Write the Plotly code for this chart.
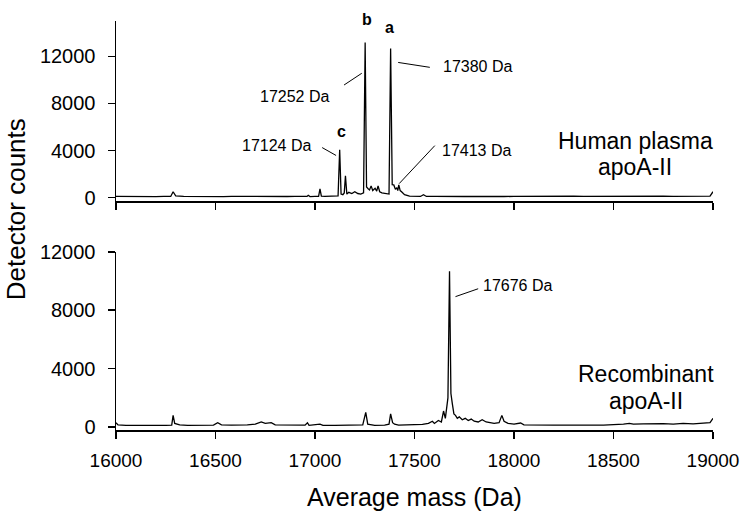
import plotly.graph_objects as go

# ---------------- data ----------------
mass_human = [16000, 16040, 16080, 16120, 16160, 16200, 16240, 16275, 16287, 16300,
              16340, 16380, 16420, 16460, 16500, 16540, 16580, 16620, 16660, 16700,
              16740, 16780, 16820, 16860, 16900, 16940, 16960, 16966, 16975, 17000,
              17018, 17025, 17032, 17050, 17080, 17100, 17116, 17124, 17131, 17140,
              17147, 17153, 17160, 17170, 17185, 17200, 17215, 17230, 17244, 17252,
              17259, 17267, 17274, 17282, 17290, 17302, 17310, 17317, 17325, 17336,
              17350, 17361, 17372, 17380, 17388, 17396, 17404, 17411, 17416, 17421,
              17428, 17435, 17450, 17475, 17500, 17530, 17545, 17560, 17600, 17650,
              17700, 17750, 17800, 17850, 17900, 17950, 18000, 18050, 18100, 18150,
              18200, 18250, 18300, 18350, 18400, 18450, 18500, 18550, 18600, 18650,
              18700, 18750, 18800, 18850, 18900, 18950, 18985, 19000]
counts_human = [100, 90, 110, 95, 105, 90, 110, 100, 500, 150,
                100, 90, 110, 95, 100, 90, 105, 95, 110, 95,
                100, 90, 105, 95, 100, 90, 100, 200, 90, 100,
                110, 750, 120, 100, 110, 130, 150, 4060, 300, 250,
                400, 1850, 300, 450, 350, 500, 350, 300, 400, 13170,
                900, 750, 650, 1000, 600, 800, 550, 1000, 500, 400,
                350, 300, 300, 12670, 1100, 1080, 700, 850, 600, 1080,
                600, 500, 250, 120, 100, 100, 250, 100, 110, 90,
                100, 95, 110, 90, 105, 95, 100, 110, 95, 140,
                100, 110, 130, 100, 110, 120, 100, 140, 120, 130,
                150, 130, 110, 120, 100, 110, 130, 500]

mass_recomb = [16000, 16010, 16050, 16100, 16150, 16200, 16250, 16280, 16287, 16295,
               16320, 16360, 16400, 16450, 16490, 16511, 16530, 16580, 16620, 16660,
               16700, 16730, 16750, 16780, 16800, 16850, 16900, 16950, 16962, 16970,
               17025, 17040, 17100, 17150, 17200, 17240, 17255, 17265, 17300, 17350,
               17372, 17380, 17390, 17400, 17420, 17460, 17500, 17540, 17570, 17590,
               17600, 17620, 17635, 17646, 17655, 17668, 17676, 17683, 17690, 17698,
               17706, 17715, 17725, 17740, 17755, 17770, 17785, 17800, 17820, 17840,
               17860, 17880, 17900, 17925, 17939, 17950, 17970, 18000, 18033, 18050,
               18100, 18150, 18200, 18250, 18300, 18350, 18400, 18450, 18500, 18550,
               18580, 18600, 18650, 18700, 18750, 18800, 18850, 18900, 18950, 18985,
               19000]
counts_recomb = [300, 150, 120, 110, 120, 110, 120, 130, 800, 250,
                 150, 120, 110, 120, 130, 300, 150, 130, 120, 150,
                 200, 350, 250, 300, 150, 130, 120, 130, 300, 120,
                 200, 120, 110, 120, 110, 150, 1000, 200, 120, 130,
                 200, 900, 300, 200, 130, 150, 130, 180, 250, 400,
                 250, 450, 350, 1100, 600, 2000, 10670, 2300, 1600, 900,
                 800, 600, 700, 500, 600, 450, 550, 400, 350, 500,
                 350, 300, 250, 300, 800, 400, 250, 200, 280, 150,
                 130, 130, 140, 130, 150, 130, 140, 130, 150, 200,
                 250, 200, 220, 250, 230, 200, 260, 220, 250, 300,
                 600]

x_ticks = [16000, 16500, 17000, 17500, 18000, 18500, 19000]
x_tick_labels = ["16000", "16500", "17000", "17500", "18000", "18500", "19000"]
y_ticks = [0, 4000, 8000, 12000]
y_tick_labels = ["0", "4000", "8000", "12000"]

FONT = "Liberation Sans, Arial, sans-serif"

fig = go.Figure()
fig.add_trace(go.Scatter(x=mass_human, y=counts_human, mode="lines",
                         line=dict(color="black", width=1.3),
                         xaxis="x", yaxis="y", showlegend=False, hoverinfo="skip"))
fig.add_trace(go.Scatter(x=mass_recomb, y=counts_recomb, mode="lines",
                         line=dict(color="black", width=1.3),
                         xaxis="x2", yaxis="y2", showlegend=False, hoverinfo="skip"))

axis_common = dict(showline=True, linecolor="black", linewidth=1.5,
                   ticks="outside", ticklen=7, tickwidth=1.5, tickcolor="black",
                   showgrid=False, zeroline=False)
yfont = dict(family=FONT, size=20, color="black")
xfont = dict(family=FONT, size=19, color="black")

fig.update_layout(
    width=749, height=515,
    margin=dict(l=116, r=28, t=10, b=85),
    paper_bgcolor="white", plot_bgcolor="white",
    xaxis=dict(domain=[0, 1], range=[16000, 19000], tickvals=x_ticks,
               ticktext=x_tick_labels, showticklabels=False, anchor="y",
               tickfont=xfont, **axis_common),
    yaxis=dict(domain=[0.5595, 1], range=[-300, 15000], tickvals=y_ticks,
               ticktext=y_tick_labels, anchor="x", ticklabelstandoff=8,
               tickfont=yfont, **axis_common),
    xaxis2=dict(domain=[0, 1], range=[16000, 19000], tickvals=x_ticks,
                ticktext=x_tick_labels, anchor="y2", ticklabelstandoff=6,
                tickfont=xfont, **axis_common),
    yaxis2=dict(domain=[0, 0.4357], range=[-200, 12000], tickvals=y_ticks,
                ticktext=y_tick_labels, anchor="x2", ticklabelstandoff=8,
                tickfont=yfont, **axis_common),
)

ann = []
def txt(x, y, s, size=16, bold=False, xref="x", yref="y"):
    ann.append(dict(x=x, y=y, xref=xref, yref=yref, text=("<b>%s</b>" % s) if bold else s,
                    showarrow=False, xanchor="center", yanchor="middle",
                    font=dict(family=FONT, size=size, color="black")))

# top panel labels
txt((370 - 116) / 605, (430 - 8) / 420, "b", bold=True, xref="paper", yref="paper")
txt(17374, 14425, "a", bold=True)
txt(17131, 5655, "c", bold=True)
txt(16898, 8550, "17252 Da")
txt(16808, 4410, "17124 Da")
txt(17815, 11120, "17380 Da")
txt(17810, 4000, "17413 Da")
txt(18613, 4830, "Human plasma", size=23)
txt(18608, 2600, "apoA-II", size=23)
# bottom panel labels
txt(18018, 9667, "17676 Da", xref="x2", yref="y2")
txt(18663, 3600, "Recombinant", size=23, xref="x2", yref="y2")
txt(18663, 1800, "apoA-II", size=23, xref="x2", yref="y2")

# axis titles
ann.append(dict(x=(15 - 116) / 605, y=(430 - 203) / 420, xref="paper", yref="paper",
                text="Detector counts", textangle=-90, showarrow=False,
                xanchor="center", yanchor="middle",
                font=dict(family=FONT, size=26, color="black")))
ann.append(dict(x=(418 - 116) / 605, y=(430 - 499) / 420, xref="paper", yref="paper",
                text="Average mass (Da)", showarrow=False,
                xanchor="center", yanchor="middle",
                font=dict(family=FONT, size=25, color="black")))
fig.update_layout(annotations=ann)

# leader lines
leaders = [
    ("x", "y", 17146, 9565, 17235, 10560),
    ("x", "y", 17036, 4250, 17106, 3580),
    ("x", "y", 17418, 11480, 17577, 11065),
    ("x", "y", 17602, 4415, 17423, 1190),
    ("x2", "y2", 17706, 8930, 17820, 9470),
]
for xr, yr, x0, y0, x1, y1 in leaders:
    fig.add_shape(type="line", xref=xr, yref=yr, x0=x0, y0=y0, x1=x1, y1=y1,
                  line=dict(color="black", width=1))

fig.write_html("out.html",
               config={"displayModeBar": False, "staticPlot": True},
               post_script="document.body.style.margin='0px';document.body.style.padding='0px';")
